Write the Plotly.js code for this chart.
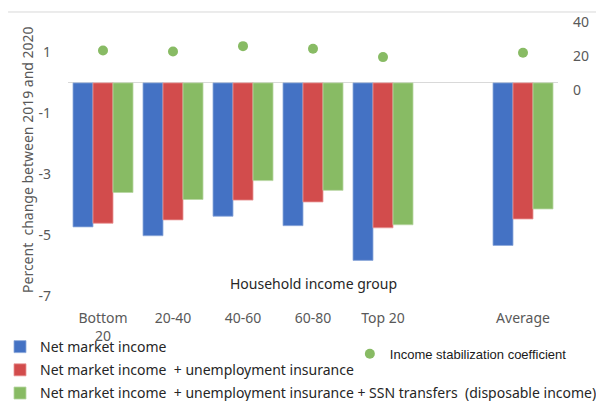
<!DOCTYPE html>
<html>
<head>
<meta charset="utf-8">
<script src="https://cdn.plot.ly/plotly-3.0.1.min.js"></script>
<style>
  html, body { margin: 0; padding: 0; background: #ffffff; }
  #chart { width: 596px; height: 401px; }
</style>
</head>
<body>
<div id="chart"></div>
<script>
// Household income groups (a blank slot separates the groups from the average)
var groups = ['Bottom<br>20', '20-40', '40-60', '60-80', 'Top 20', ' ', 'Average'];

// Percent change between 2019 and 2020
var netMarket      = [-4.73, -5.02, -4.38, -4.69, -5.83, null, -5.34];
var withUI         = [-4.61, -4.50, -3.85, -3.91, -4.76, null, -4.47];
var withUIandSSN   = [-3.60, -3.83, -3.21, -3.53, -4.66, null, -4.14];

// Income stabilization coefficient (right axis)
var stabilization  = [23.4, 22.8, 25.9, 24.4, 19.5, null, 22.0];

var seriesNames = [
  'Net market income',
  'Net market income  + unemployment insurance',
  'Net market income  + unemployment insurance + SSN transfers  (disposable income)',
  'Income stabilization coefficient'
];

var leftTicks      = [-7, -5, -3, -1, 1];
var leftTickText   = ['-7', '-5', '-3', '-1', '1'];
var rightTicks     = [0, 20, 40];
var rightTickText  = ['0', '20', '40'];

var blue  = '#4472C4';
var red   = '#D24C4C';
var green = '#88BB64';

function barTrace(vals, name, color, edge, grp) {
  return {
    type: 'bar',
    x: groups,
    y: vals,
    name: name,
    legendgroup: grp,
    marker: { color: color, line: { color: edge, width: 0.8 } },
    hoverinfo: 'x+y'
  };
}

var data = [
  barTrace(netMarket,    seriesNames[0], blue,  '#8EA9DB', 'a'),
  barTrace(withUI,       seriesNames[1], red,   '#E89595', 'b'),
  barTrace(withUIandSSN, seriesNames[2], green, '#B8D6A2', 'c'),
  {
    type: 'scatter',
    mode: 'markers',
    x: groups,
    y: stabilization,
    yaxis: 'y2',
    name: seriesNames[3],
    legend: 'legend2',
    marker: { color: green, size: 10 }
  }
];

var grey = '#595959';

var layout = {
  width: 596,
  height: 401,
  margin: { l: 68, r: 38, t: 22, b: 105, autoexpand: false },
  paper_bgcolor: '#ffffff',
  plot_bgcolor: '#ffffff',
  font: { family: 'Noto Sans, sans-serif', size: 14, color: grey },
  barmode: 'group',
  bargap: 0.143,
  bargroupgap: 0,
  showlegend: true,
  xaxis: {
    type: 'category',
    categoryorder: 'array',
    categoryarray: groups,
    showgrid: false,
    showline: false,
    zeroline: false,
    ticks: '',
    ticklabelstandoff: 12,
    tickfont: { size: 14, color: grey }
  },
  yaxis: {
    range: [-7, 2],
    tickmode: 'array',
    tickvals: leftTicks,
    ticktext: leftTickText,
    showgrid: false,
    showline: false,
    zeroline: true,
    zerolinecolor: '#D9D9D9',
    zerolinewidth: 1,
    ticks: '',
    ticklabelstandoff: 16,
    tickfont: { size: 14, color: grey }
  },
  yaxis2: {
    overlaying: 'y',
    side: 'right',
    range: [-120, 40],
    tickmode: 'array',
    tickvals: rightTicks,
    ticktext: rightTickText,
    showgrid: false,
    showline: false,
    zeroline: false,
    ticks: '',
    ticklabelstandoff: 14,
    tickfont: { size: 14, color: grey }
  },
  legend: {
    xref: 'container', yref: 'container',
    x: 0.0, y: 0.1745,
    xanchor: 'left', yanchor: 'top',
    orientation: 'v',
    tracegroupgap: 2,
    font: { family: 'Noto Sans, sans-serif', size: 14, color: '#262626' },
    bgcolor: 'rgba(0,0,0,0)'
  },
  legend2: {
    xref: 'container', yref: 'container',
    x: 0.587, y: 0.155,
    xanchor: 'left', yanchor: 'top',
    font: { family: 'Liberation Sans, Arial, sans-serif', size: 13, color: '#1a1a1a' },
    bgcolor: 'rgba(0,0,0,0)'
  },
  shapes: [
    {
      type: 'line', xref: 'paper', yref: 'paper',
      x0: -0.1224, x1: 1.08, y0: 1.0365, y1: 1.0365,
      line: { color: '#D9D9D9', width: 1 }
    }
  ],
  annotations: [
    {
      text: 'Household income group',
      xref: 'paper', yref: 'paper',
      x: 0.5, y: 0.047,
      xanchor: 'center', yanchor: 'middle',
      showarrow: false,
      font: { size: 14, color: '#262626' }
    },
    {
      text: 'Percent  change between 2019 and 2020',
      xref: 'paper', yref: 'paper',
      x: -0.0837, y: 0.5,
      xanchor: 'center', yanchor: 'middle',
      textangle: -90,
      showarrow: false,
      font: { size: 14, color: grey }
    }
  ]
};

Plotly.newPlot('chart', data, layout, { displayModeBar: false, staticPlot: true });
</script>
</body>
</html>
